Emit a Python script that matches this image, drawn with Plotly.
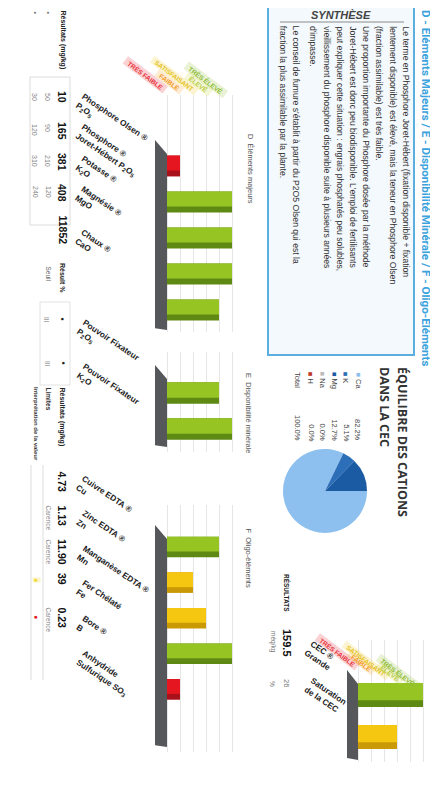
import plotly.graph_objects as go

# The page body has an 8px margin: the figure is drawn 8px in from the window's
# top-left corner, so the figure is sized to fit and positions are window pixels.
WIN_W, WIN_H = 438, 787
OFF = 8
W, H = WIN_W - OFF, WIN_H - 2 * OFF

# ---------------- data ----------------
title_text = "D - Éléments Majeurs / E - Disponibilité Minérale / F - Oligo-Éléments"

d_labels = ["Phosphore Olsen ®<br>P<sub>2</sub>O<sub>5</sub>", "Phosphore ®<br>Joret-Hébert P<sub>2</sub>O<sub>5</sub>",
            "Potasse ®<br>K<sub>2</sub>O", "Magnésie ®<br>MgO", "Chaux ®<br>CaO"]
d_results = ["10", "165", "381", "408", "11852"]
d_levels = [1, 5, 5, 5, 4]
d_seuil_bas = ["50", "90", "210", "120", ""]
d_seuil_haut = ["30", "120", "310", "240", ""]

e_labels = ["Pouvoir Fixateur<br>P<sub>2</sub>O<sub>5</sub>", "Pouvoir Fixateur<br>K<sub>2</sub>O"]
e_results = ["•", "•"]
e_classes = ["III", "III"]
e_levels = [4, 5]

f_labels = ["Cuivre EDTA ®<br>Cu", "Zinc EDTA ®<br>Zn", "Manganèse EDTA ®<br>Mn",
            "Fer Chélaté<br>Fe", "Bore ®<br>B", "Anhydride<br>Sulfurique SO<sub>3</sub>"]
f_results = ["4.73", "1.13", "11.90", "39", "0.23", ""]
f_interp = ["", "Carence", "Carence", "", "Carence", ""]
f_levels = [4, 2, 3, 5, 1, None]

cec_labels = ["CEC ®<br>Grande", "Saturation<br>de la CEC"]
cec_results = ["159.5", "26"]
cec_units = ["méq/kg", "%"]
cec_levels = [5, 3]

cations = ["Ca", "K", "Mg", "Na", "H"]
cation_pct = [82.2, 5.1, 12.7, 0.0, 0.0]

classes = ["TRÈS FAIBLE", "FAIBLE", "SATISFAISANT", "ÉLEVÉ", "TRÈS ÉLEVÉ"]

synthese_lines = [
    "Le terme en Phosphore Joret-Hébert (fixation disponible + fixation",
    "lentement disponible) est élevé, mais la teneur en Phosphore Olsen",
    "(fraction assimilable) est très faible.",
    "Une proportion importante du Phosphore dosée par la méthode",
    "Joret-Hébert est donc peu biodisponible. L'emploi de fertilisants",
    "peut expliquer cette situation : engrais phosphatés peu solubles,",
    "vieillissement du phosphore disponible suite à plusieurs années",
    "d'impasse.",
    "Le conseil de fumure s'établit à partir du P2O5 Olsen qui est la",
    "fraction la plus assimilable par la plante.",
]

# ---------------- styling ----------------
FONT = "Liberation Sans"
LIGHT = {"red": "#E5161F", "yellow": "#F5C710", "green": "#95C423"}
DARK = {"red": "#A8101A", "yellow": "#C99A06", "green": "#5E8A14"}
RIB_COL = ["#E8303A", "#F39A1E", "#E6C21E", "#B9CC3A", "#8DBB32"]
RIB_BG = ["rgba(232,48,58,0.22)", "rgba(243,154,30,0.2)", "rgba(240,207,42,0.22)",
          "rgba(200,216,74,0.22)", "rgba(155,197,61,0.22)"]


def cname(level):
    if level is None:
        return "green"
    if level <= 1:
        return "red"
    if level <= 3:
        return "yellow"
    return "green"


def px(x):
    return (x - OFF) / W


def py(y):
    return 1 - (y - OFF) / H


fig = go.Figure()
annotations = []
shapes = []


def ann(text, x, y, angle=90, size=8, color="#222", xanchor="center", yanchor="top",
        xref="paper", yref="paper", bg=None, family=FONT, align="left"):
    d = dict(text=text, x=px(x) if xref == "paper" else x, y=py(y) if yref == "paper" else y,
             xref=xref, yref=yref, textangle=angle, showarrow=False,
             font=dict(size=size, color=color, family=family),
             xanchor=xanchor, yanchor=yanchor, align=align, borderpad=0)
    if bg:
        d["bgcolor"] = bg
    annotations.append(d)


# ---------------- bar sections ----------------
sections = [
    dict(k="", n=5, levels=d_levels, x0=155, x1=245, base=167, c0=166, s=36, top=95, bot=332, wt=140, wb=330, bw=0.58),
    dict(k="2", n=2, levels=e_levels, x0=155, x1=245, base=167, c0=393, s=36, top=352, bot=452, wt=365, wb=447, bw=0.6),
    dict(k="3", n=6, levels=f_levels, x0=155, x1=245, base=167, c0=547, s=35.6, top=505, bot=752, wt=525, wb=747, bw=0.58),
    dict(k="4", n=2, levels=cec_levels, x0=347, x1=437, base=358, c0=695, s=42, top=640, bot=762, wt=670, wb=760, bw=0.57),
]
PXL = 13.0  # pixels per level

layout_axes = {}
for sec in sections:
    k = sec["k"]
    xa = "x" + k
    ya = "y" + k
    cats = list(range(sec["n"]))
    xvals = [l if l is not None else None for l in sec["levels"]]
    cols_l = [LIGHT[cname(l)] for l in sec["levels"]]
    cols_d = [DARK[cname(l)] for l in sec["levels"]]
    fig.add_trace(go.Bar(x=xvals, y=cats, orientation="h", xaxis=xa, yaxis=ya,
                         width=sec["bw"], offset=-sec["bw"] / 2,
                         marker=dict(color=cols_d, line=dict(width=0)), hoverinfo="skip"))
    fig.add_trace(go.Bar(x=xvals, y=cats, orientation="h", xaxis=xa, yaxis=ya,
                         width=sec["bw"] * 0.72, offset=-sec["bw"] / 2,
                         marker=dict(color=cols_l, line=dict(width=0)), hoverinfo="skip"))
    xr = [(sec["x0"] - sec["base"]) / PXL, (sec["x1"] - sec["base"]) / PXL]
    yr = [(sec["bot"] - sec["c0"]) / sec["s"], (sec["top"] - sec["c0"]) / sec["s"]]
    xname = "xaxis" + k
    yname = "yaxis" + k
    layout_axes[xname] = dict(domain=[px(sec["x0"]), px(sec["x1"])], range=xr, anchor=ya,
                              showgrid=True, gridcolor="#e6e6e6", gridwidth=1, tick0=0, dtick=1,
                              zeroline=False, showticklabels=False, showline=False, ticks="")
    layout_axes[yname] = dict(domain=[py(sec["bot"]), py(sec["top"])], range=yr, anchor=xa,
                              showgrid=False, zeroline=False, showticklabels=False, showline=False, ticks="")
    # dark wall at the base of the bars
    wt = (sec["wt"] - sec["c0"]) / sec["s"]
    wb = (sec["wb"] - sec["c0"]) / sec["s"]
    slope = 14 / sec["s"]
    shapes.append(dict(type="path", xref=xa, yref=ya, layer="below",
                       path=f"M {xr[0]},{wt} L 0,{wt + slope} L 0,{wb} L {xr[0]},{wb - 0.05} Z",
                       fillcolor="#55575b", line=dict(width=0)))

# ---------------- pie ----------------
fig.add_trace(go.Pie(labels=cations, values=cation_pct, sort=False, direction="clockwise",
                     rotation=90, textinfo="none", hoverinfo="label+percent",
                     marker=dict(colors=["#8DC0EE", "#2C6EB8", "#1B5BA4", "#6aa8e0", "#c0392b"],
                                 line=dict(width=0)),
                     domain=dict(x=[px(283), px(367)], y=[py(533), py(449)]), showlegend=False))

# ---------------- header / synthesis box ----------------
ann("<b>" + title_text + "</b>", 426, 9, size=11.5, color="#3AA2DD", family="Roboto")

shapes.append(dict(type="rect", xref="paper", yref="paper", x0=px(268), x1=px(414), y0=py(355), y1=py(2),
                   line=dict(color="#5AAEE0", width=2), fillcolor="#F4F9FD", layer="below"))
shapes.append(dict(type="line", xref="paper", yref="paper", x0=px(280), x1=px(404), y0=py(22), y1=py(22),
                   line=dict(color="#8a8a8a", width=1.2)))
ann("<b><i>SYNTHÈSE</i></b>", 341, 8, angle=0, size=11, color="#444")
for i, line in enumerate(synthese_lines):
    xline = 406 - 13.2 * i - (4 if i >= 8 else 0)
    ann(line, xline, 25, size=8.6, color="#333")

# ---------------- cation balance ----------------
ann("<b>ÉQUILIBRE DES CATIONS</b>", 403, 366, size=12.5, color="#333", family="Open Sans")
ann("<b>DANS LA CEC</b>", 385, 366, size=12.5, color="#333", family="Open Sans")
cat_cols = ["#8DC0EE", "#2C6EB8", "#1B5BA4", "#bbbbbb", "#c0392b"]
for i, (c, p) in enumerate(zip(cations, cation_pct)):
    xr_ = 358 - 11.7 * i
    ann(f"<span style='color:{cat_cols[i]}'>■</span> {c}", xr_, 371, size=7.5, color="#444")
    ann(f"{p:.1f}%", xr_, 442, size=7.5, color="#444", yanchor="bottom")
ann("Total", 298, 371, size=7.5, color="#444")
ann(f"{sum(cation_pct):.1f}%", 298, 442, size=7.5, color="#444", yanchor="bottom")

# ---------------- section titles ----------------
ann("D  Éléments majeurs", 251, 133, size=7.5, color="#555")
ann("E  Disponibilité minérale", 249, 372, size=7.5, color="#555")
ann("F  Oligo-éléments", 248, 527, size=7.5, color="#555")

# ---------------- class ribbons ----------------
for i, cl in enumerate(classes):
    txt = f"<b>  {cl}  </b>"
    ann(txt, 169 + 15 * i, 94 + 1.2 * i, angle=37, size=6.5, color=RIB_COL[i],
        xanchor="right", yanchor="bottom", bg=RIB_BG[i])
    ann(txt, 361 + 15 * i, 671 + 5 * i, angle=37, size=6.5, color=RIB_COL[i],
        xanchor="right", yanchor="bottom", bg=RIB_BG[i])

# ---------------- table D ----------------
shapes.append(dict(type="rect", xref="paper", yref="paper", x0=px(30), x1=px(70), y0=py(225), y1=py(77),
                   line=dict(color="#dcdcdc", width=1)))
ann("<b>Résultats (mg/kg)</b>", 62, 9, size=7, color="#222")
ann("•", 48, 10, size=7, color="#777")
ann("•", 35, 10, size=7, color="#777")
for i in range(len(d_results)):
    ytop = 90 + 31 * i
    ann(f"<b>{d_results[i]}</b>", 62, ytop, size=10.5, color="#111")
    ann(d_seuil_bas[i], 48, ytop + 2, size=7, color="#888")
    ann(d_seuil_haut[i], 35, ytop + 2, size=7, color="#888")
    ann(f"<b>{d_labels[i]}</b>", 72, ytop + (12 if i == 4 else 0), angle=34, size=8.3,
        color="#222", xanchor="left", yanchor="top")
ann("<b>Résult %</b>", 62, 262, size=7, color="#222")
ann("Seuil", 48, 265, size=6.5, color="#666")

# ---------------- table E ----------------
shapes.append(dict(type="rect", xref="paper", yref="paper", x0=px(40), x1=px(70), y0=py(385), y1=py(302),
                   line=dict(color="#e2e2e2", width=1)))
for i in range(len(e_results)):
    ytop = 316 + 44 * i
    ann(f"<b>{e_results[i]}</b>", 62, ytop, size=9, color="#222")
    ann(e_classes[i], 47, ytop, size=6.5, color="#888")
    ann(f"<b>{e_labels[i]}</b>", 73, ytop, angle=34, size=8.3, color="#222", xanchor="left", yanchor="top")

# ---------------- table F ----------------
shapes.append(dict(type="line", xref="paper", yref="paper", x0=px(31), x1=px(31), y0=py(465), y1=py(680),
                   line=dict(color="#dddddd", width=1)))
shapes.append(dict(type="line", xref="paper", yref="paper", x0=px(43), x1=px(43), y0=py(465), y1=py(680),
                   line=dict(color="#dddddd", width=1)))
ann("<b>Résultats (mg/kg)</b>", 62, 386, size=7, color="#222")
ann("<b>Limites</b>", 48, 386, size=6.5, color="#333")
ann("<b>Interprétation de la valeur</b>", 36, 386, size=6, color="#333")
for i in range(len(f_labels)):
    ytop = 470 + 34 * i
    if f_results[i]:
        ann(f"<b>{f_results[i]}</b>", 62, ytop, size=10.5, color="#111")
    if f_interp[i]:
        ann(f_interp[i], 48, ytop, size=6.5, color="#888")
    ann(f"<b>{f_labels[i]}</b>", 73, 472 + 35 * i, angle=34, size=8.3, color="#222",
        xanchor="left", yanchor="top")
ann("●", 37, 577, size=7, color="#F0D52A", bg="rgba(245,235,150,0.5)")
ann("●", 37, 614, size=7, color="#E5161F")

# ---------------- table CEC ----------------
ann("<b>RÉSULTATS</b>", 287, 573, size=6.5, color="#222")
for i in range(len(cec_results)):
    ytop = 628 + 50 * i
    bold = i == 0
    ann(f"<b>{cec_results[i]}</b>" if bold else cec_results[i], 287, ytop,
        size=11 if bold else 7.5, color="#111" if bold else "#777")
    ann(cec_units[i], 273, ytop + 2, size=6.5, color="#777")
    ann(f"<b>{cec_labels[i]}</b>", 301, 637 + 37 * i, angle=34, size=8.3, color="#222",
        xanchor="left", yanchor="top")

fig.update_layout(
    width=W, height=H, autosize=False,
    margin=dict(l=0, r=0, t=0, b=0, pad=0),
    paper_bgcolor="white", plot_bgcolor="rgba(0,0,0,0)",
    showlegend=False, barmode="overlay",
    annotations=annotations, shapes=shapes,
    font=dict(family=FONT),
    **layout_axes,
)

fig.write_html("out.html", config={"displayModeBar": False})
